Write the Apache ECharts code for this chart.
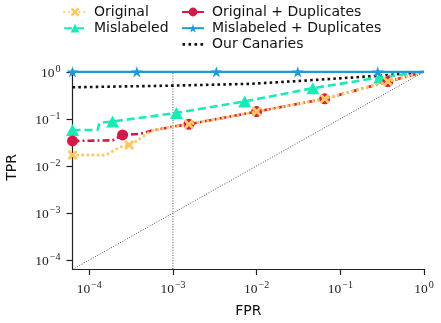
<!DOCTYPE html>
<html>
<head>
<meta charset="utf-8">
<script src="https://cdn.jsdelivr.net/npm/echarts@6/dist/echarts.min.js"></script>
<style>
  html, body { margin: 0; padding: 0; background: #fff; }
  #chart { width: 441px; height: 323px; }
</style>
</head>
<body>
<div id="chart"></div>
<script>
// axis limits
const xMin = 6.3e-5;
const yMin = 6.45e-5;
const yMax = 1.15;
const tickValues = [1e-4, 1e-3, 1e-2, 1e-1, 1];

// Original
const origX = [xMin, 1.58e-4, 2.29e-4, 3.0e-4, 3.6e-4, 5.5e-4, 1.0e-3, 1.55e-3, 0.01, 0.065, 0.37, 1];
const origY = [0.017, 0.017, 0.025, 0.028, 0.033, 0.0556, 0.0686, 0.077, 0.143, 0.267, 0.62, 1];
const origMarks = [0, 3, 7, 8, 9, 10];

// Mislabeled
const misX = [xMin, 1.26e-4, 1.32e-4, 1.9e-4, 1.1e-3, 7.2e-3, 0.047, 0.295, 1];
const misY = [0.058, 0.058, 0.082, 0.088, 0.134, 0.235, 0.45, 0.76, 1];
const misMarks = [0, 3, 4, 5, 6, 7];

// Original + Duplicates
const origDupX = [xMin, 1.9e-4, 2.5e-4, 4.0e-4, 5.5e-4, 1.0e-3, 1.55e-3, 0.01, 0.065, 0.37, 1];
const origDupY = [0.034, 0.035, 0.0457, 0.048, 0.056, 0.0686, 0.077, 0.143, 0.267, 0.62, 1];
const origDupMarks = [0, 2, 6, 7, 8, 9];

// Mislabeled + Duplicates
const misDupX = [xMin, 3.7e-4, 3.3e-3, 0.031, 0.28, 1];
const misDupY = [1, 1, 1, 1, 1, 1];
const misDupMarks = [0, 1, 2, 3, 4];

// Our Canaries
const canX = [xMin, 1.0e-3, 8.3e-3, 0.032, 0.3, 1];
const canY = [0.47, 0.51, 0.556, 0.64, 0.83, 1];

// reference lines
const diagX = [xMin, 1];
const diagY = [xMin, 1];
const vlineX = [1e-3, 1e-3];
const vlineY = [yMin, 1];

const crossPath = 'path://M0,2L2,0L5,3L8,0L10,2L7,5L10,8L8,10L5,7L2,10L0,8L3,5Z';
const starPath = 'path://M10,0L12.245,6.91L19.51,6.91L13.63,11.18L15.88,18.09L10,13.82L4.12,18.09L6.37,11.18L0.49,6.91L7.755,6.91Z';
// dotted legend icon (4 square dots), tiny corner marks keep the 22x11 box
const dotsIcon = 'path://M0,0L0.01,0L0,0.01ZM22,11L21.99,11L22,10.99Z' +
  'M0.5,4.2h2.6v2.6h-2.6ZM6.5,4.2h2.6v2.6h-2.6ZM12.5,4.2h2.6v2.6h-2.6ZM18.5,4.2h2.6v2.6h-2.6Z';

function pts(xs, ys, marks) {
  return xs.map((x, i) => {
    const p = { value: [x, ys[i]] };
    if (!marks || marks.indexOf(i) < 0) p.symbol = 'none';
    return p;
  });
}

const labelFmt = v => {
  const e = Math.round(Math.log10(v));
  return '{b|10}{s|' + (e < 0 ? '\u2212' + (-e) : e) + '}';
};
const labelRich = {
  b: { fontFamily: 'Liberation Serif', fontSize: 13.5, color: '#222', verticalAlign: 'bottom', lineHeight: 17 },
  s: { fontFamily: 'Liberation Serif', fontSize: 10, color: '#222', verticalAlign: 'bottom', lineHeight: 17, padding: [0, 0, 6, 1] }
};

const chart = echarts.init(document.getElementById('chart'));

const legendText = { fontFamily: 'DejaVu Sans', fontSize: 14, color: '#111', padding: [0, 0, 0, 3] };

chart.setOption({
  animation: false,
  legend: [
    {
      data: ['Original', 'Mislabeled'],
      orient: 'vertical', left: 58, top: 0,
      itemWidth: 22, itemHeight: 11, itemGap: 2.2,
      textStyle: legendText
    },
    {
      data: ['Original + Duplicates', 'Mislabeled + Duplicates',
        { name: 'Our Canaries', icon: dotsIcon, itemStyle: { color: '#111' } }],
      orient: 'vertical', left: 176, top: 0,
      itemWidth: 22, itemHeight: 11, itemGap: 2.2,
      textStyle: legendText
    }
  ],
  grid: { left: 72.5, right: 17, top: 69, bottom: 54, outerBoundsMode: 'none' },
  xAxis: {
    type: 'log', logBase: 10, min: xMin, max: 1,
    name: 'FPR', nameLocation: 'middle', nameGap: 35,
    nameTextStyle: { fontFamily: 'DejaVu Sans', fontSize: 14, color: '#111' },
    axisLine: { lineStyle: { color: '#222', width: 1.2 } },
    axisTick: { customValues: tickValues, length: 6, lineStyle: { color: '#222', width: 1.2 } },
    axisLabel: { customValues: tickValues, formatter: labelFmt, rich: labelRich, margin: 10 },
    minorTick: { show: false },
    splitLine: { show: false }
  },
  yAxis: {
    type: 'log', logBase: 10, min: yMin, max: yMax,
    name: 'TPR', nameLocation: 'middle', nameGap: 53,
    nameTextStyle: { fontFamily: 'DejaVu Sans', fontSize: 14, color: '#111', padding: [0, 0, 0, 3] },
    axisLine: { lineStyle: { color: '#222', width: 1.2 } },
    axisTick: { customValues: tickValues, length: 6, lineStyle: { color: '#222', width: 1.2 } },
    axisLabel: { customValues: tickValues, formatter: labelFmt, rich: labelRich, margin: 12 },
    minorTick: { show: false },
    splitLine: { show: false }
  },
  series: [
    {
      type: 'line', silent: true, z: 1,
      data: pts(diagX, diagY, null), symbol: 'none',
      lineStyle: { color: '#222', width: 0.8, type: [1, 1.6] }
    },
    {
      type: 'line', silent: true, z: 1,
      data: pts(vlineX, vlineY, null), symbol: 'none',
      lineStyle: { color: '#222', width: 0.8, type: [1, 1.6] }
    },
    {
      name: 'Our Canaries', type: 'line', z: 2,
      data: pts(canX, canY, null), symbol: 'none',
      lineStyle: { color: '#111', width: 2.6, type: [2.6, 3.2] },
      itemStyle: { color: '#111' }
    },
    {
      name: 'Mislabeled', type: 'line', z: 3,
      data: pts(misX, misY, misMarks),
      symbol: 'triangle', symbolSize: [13, 12],
      lineStyle: { color: '#1de9b6', width: 2.6, type: [8, 4] },
      itemStyle: { color: '#1de9b6' }
    },
    {
      name: 'Original + Duplicates', type: 'line', z: 4,
      data: pts(origDupX, origDupY, origDupMarks),
      symbol: 'circle', symbolSize: 11,
      lineStyle: { color: '#d01c47', width: 2.6, type: [7, 3, 2, 3] },
      itemStyle: { color: '#d01c47' }
    },
    {
      name: 'Original', type: 'line', z: 5,
      data: pts(origX, origY, origMarks),
      symbol: crossPath, symbolSize: 10,
      lineStyle: { color: '#fdc95f', width: 3, type: [0.1, 5], cap: 'round' },
      itemStyle: { color: '#fdc95f' }
    },
    {
      name: 'Mislabeled + Duplicates', type: 'line', z: 6,
      data: pts(misDupX, misDupY, misDupMarks),
      symbol: starPath, symbolSize: 12, symbolKeepAspect: true,
      lineStyle: { color: '#1f9ad6', width: 2.2 },
      itemStyle: { color: '#1f9ad6' }
    }
  ]
});
</script>
</body>
</html>
